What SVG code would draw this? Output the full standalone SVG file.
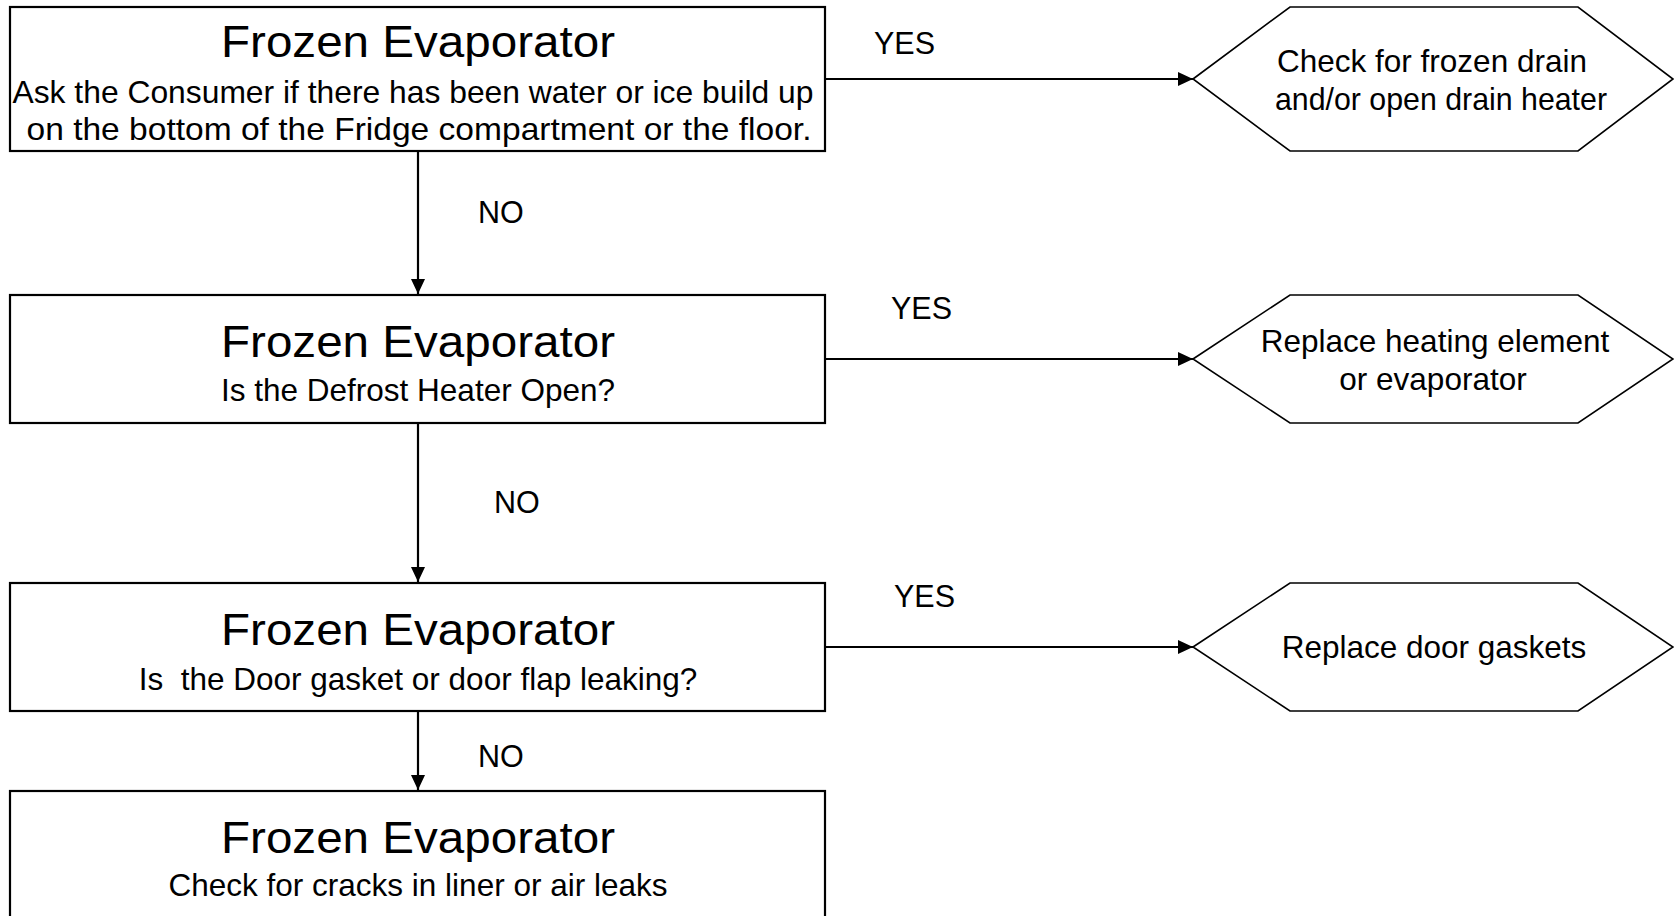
<svg xmlns="http://www.w3.org/2000/svg" width="1674" height="916" viewBox="0 0 1674 916">
  <style>
    text { font-family: "Liberation Sans", Arial, sans-serif; fill: #000; }
    .title { font-size: 44px; text-anchor: middle; }
    .body { font-size: 31.5px; text-anchor: middle; }
    .label { font-size: 30.5px; }
    .box { fill: #fff; stroke: #000; stroke-width: 2.2; }
    .hex { fill: #fff; stroke: #000; stroke-width: 1.6; stroke-linejoin: miter; }
    .link { fill: none; stroke: #000; stroke-width: 2.2; }
  </style>
  <defs>
    <marker id="arrow" viewBox="0 0 15 14" refX="15" refY="7" markerWidth="15" markerHeight="14" markerUnits="userSpaceOnUse" orient="auto">
      <path d="M0,0 L15,7 L0,14 Z" fill="#000"/>
    </marker>
  </defs>
  <rect width="1674" height="916" fill="#fff"/>

  <!-- connectors -->
  <g id="connectors">
    <line class="link" x1="418" y1="151" x2="418" y2="294" marker-end="url(#arrow)"/>
    <line class="link" x1="418" y1="423" x2="418" y2="582" marker-end="url(#arrow)"/>
    <line class="link" x1="418" y1="711" x2="418" y2="790" marker-end="url(#arrow)"/>
    <line class="link" x1="825" y1="79" x2="1193" y2="79" marker-end="url(#arrow)"/>
    <line class="link" x1="825" y1="359" x2="1193" y2="359" marker-end="url(#arrow)"/>
    <line class="link" x1="825" y1="647" x2="1193" y2="647" marker-end="url(#arrow)"/>
    <text class="label" x="874" y="54">YES</text>
    <text class="label" x="891" y="319">YES</text>
    <text class="label" x="894" y="607">YES</text>
    <text class="label" x="478" y="223">NO</text>
    <text class="label" x="494" y="513">NO</text>
    <text class="label" x="478" y="767">NO</text>
  </g>

  <!-- decision boxes -->
  <g id="step1">
    <rect class="box" x="10" y="7" width="815" height="144"/>
    <text class="title" x="418" y="57" textLength="394" lengthAdjust="spacingAndGlyphs">Frozen Evaporator</text>
    <text class="body" x="413" y="103" textLength="801" lengthAdjust="spacingAndGlyphs">Ask the Consumer if there has been water or ice build up</text>
    <text class="body" x="419" y="140" textLength="785" lengthAdjust="spacingAndGlyphs">on the bottom of the Fridge compartment or the floor.</text>
  </g>
  <g id="step2">
    <rect class="box" x="10" y="295" width="815" height="128"/>
    <text class="title" x="418" y="357" textLength="394" lengthAdjust="spacingAndGlyphs">Frozen Evaporator</text>
    <text class="body" x="418" y="401">Is the Defrost Heater Open?</text>
  </g>
  <g id="step3">
    <rect class="box" x="10" y="583" width="815" height="128"/>
    <text class="title" x="418" y="645" textLength="394" lengthAdjust="spacingAndGlyphs">Frozen Evaporator</text>
    <text class="body" x="418" y="690" xml:space="preserve">Is  the Door gasket or door flap leaking?</text>
  </g>
  <g id="step4">
    <rect class="box" x="10" y="791" width="815" height="132"/>
    <text class="title" x="418" y="853" textLength="394" lengthAdjust="spacingAndGlyphs">Frozen Evaporator</text>
    <text class="body" x="418" y="896">Check for cracks in liner or air leaks</text>
  </g>

  <!-- outcome hexagons -->
  <g id="action1">
    <polygon class="hex" points="1193,79 1290,7 1578,7 1673,79 1578,151 1290,151"/>
    <text class="body" x="1432" y="72">Check for frozen drain</text>
    <text class="body" x="1441" y="110" textLength="332" lengthAdjust="spacingAndGlyphs">and/or open drain heater</text>
  </g>
  <g id="action2">
    <polygon class="hex" points="1193,359 1290,295 1578,295 1673,359 1578,423 1290,423"/>
    <text class="body" x="1435" y="352">Replace heating element</text>
    <text class="body" x="1433" y="390">or evaporator</text>
  </g>
  <g id="action3">
    <polygon class="hex" points="1193,647 1290,583 1578,583 1673,647 1578,711 1290,711"/>
    <text class="body" x="1434" y="658">Replace door gaskets</text>
  </g>
</svg>
